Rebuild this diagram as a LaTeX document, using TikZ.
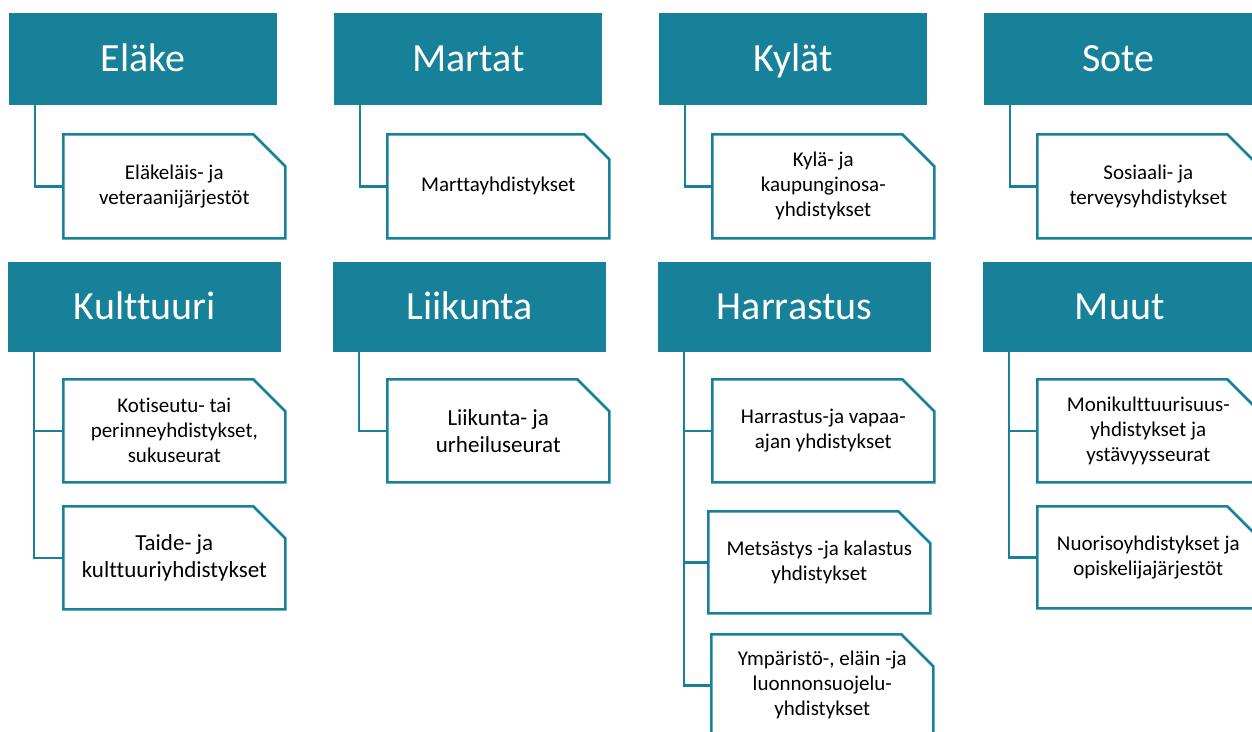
\documentclass[tikz,border=0pt]{standalone}
\usepackage{fontspec}
\setmainfont{Carlito}[Ligatures=NoCommon]
\usetikzlibrary{shapes.misc}
\definecolor{orgteal}{RGB}{24,129,154}
\tikzset{
    head/.style={fill=orgteal, text=white, anchor=north west, inner sep=0pt,
        minimum width=268pt, minimum height=92pt, text height=32pt, text depth=8pt,
        font=\fontsize{40}{48}\selectfont},
    leaf/.style={draw=orgteal, fill=white, line width=2.6pt, anchor=north west,
        chamfered rectangle, chamfered rectangle corners=north east,
        chamfered rectangle xsep=16pt, chamfered rectangle ysep=16pt,
        minimum width=222pt, minimum height=104pt, inner sep=0pt, align=center,
        font=\fontsize{21}{25}\selectfont},
    big/.append style={font=\fontsize{23}{27}\selectfont},
    link/.style={draw=orgteal, line width=2.6pt},
}

\begin{document}
\begin{tikzpicture}[x=1pt, y=-1pt]
    \useasboundingbox (0,0) rectangle (1252,731);
    \clip (0,0) rectangle (1252,731);

    % upper row
    \node[head] (elake) at (9, 13) {Eläke};
    \node[head] (martat) at (334, 13) {Martat};
    \node[head] (kylat) at (659, 13) {Kylät};
    \node[head] (sote) at (984, 13) {Sote};

    \node[leaf] (elake1) at (62, 133) {Eläkeläis- ja\\veteraanijärjestöt};
    \node[leaf] (martat1) at (386, 133) {Marttayhdistykset};
    \node[leaf] (kylat1) at (711, 133) {Kylä- ja\\kaupunginosa-\\yhdistykset};
    \node[leaf] (sote1) at (1036, 133) {Sosiaali- ja\\terveysyhdistykset};

    % lower row
    \node[head, minimum width=273pt, minimum height=90pt] (kult) at (8, 262) {Kulttuuri};
    \node[head, minimum width=273pt, minimum height=90pt] (liik) at (333, 262) {Liikunta};
    \node[head, minimum width=273pt, minimum height=90pt] (harr) at (658, 262) {Harrastus};
    \node[head, minimum width=273pt, minimum height=90pt] (muut) at (983, 262) {Muut};

    \node[leaf, minimum height=103pt] (kult1) at (62, 378) {Kotiseutu- tai\\perinneyhdistykset,\\sukuseurat};
    \node[leaf, big, minimum height=103pt] (kult2) at (62, 505) {Taide- ja\\kulttuuriyhdistykset};
    \node[leaf, big, minimum height=103pt] (liik1) at (386, 378) {Liikunta- ja\\urheiluseurat};
    \node[leaf, minimum height=103pt] (harr1) at (711, 378) {Harrastus-ja vapaa-\\ajan yhdistykset};
    \node[leaf, minimum height=102pt] (harr2) at (707, 510) {Metsästys -ja kalastus\\yhdistykset};
    \node[leaf, minimum height=102pt] (harr3) at (710, 633) {Ympäristö-, eläin -ja\\luonnonsuojelu-\\yhdistykset};
    \node[leaf, minimum height=103pt] (muut1) at (1036, 378) {Monikulttuurisuus-\\yhdistykset ja\\ystävyysseurat};
    \node[leaf, minimum height=102pt] (muut2) at (1036, 505) {Nuorisoyhdistykset ja\\opiskelijajärjestöt};

    % connectors
    \draw[link] ([xshift=26pt]elake.south west) |- (elake1.west);
    \draw[link] ([xshift=26pt]martat.south west) |- (martat1.west);
    \draw[link] ([xshift=26pt]kylat.south west) |- (kylat1.west);
    \draw[link] ([xshift=26pt]sote.south west) |- (sote1.west);
    \draw[link] ([xshift=26pt]kult.south west) |- (kult1.west);
    \draw[link] ([xshift=26pt]kult.south west) |- (kult2.west);
    \draw[link] ([xshift=26pt]liik.south west) |- (liik1.west);
    \draw[link] ([xshift=26pt]harr.south west) |- (harr1.west);
    \draw[link] ([xshift=26pt]harr.south west) |- (harr2.west);
    \draw[link] ([xshift=26pt]harr.south west) |- (harr3.west);
    \draw[link] ([xshift=26pt]muut.south west) |- (muut1.west);
    \draw[link] ([xshift=26pt]muut.south west) |- (muut2.west);
\end{tikzpicture}
\end{document}
